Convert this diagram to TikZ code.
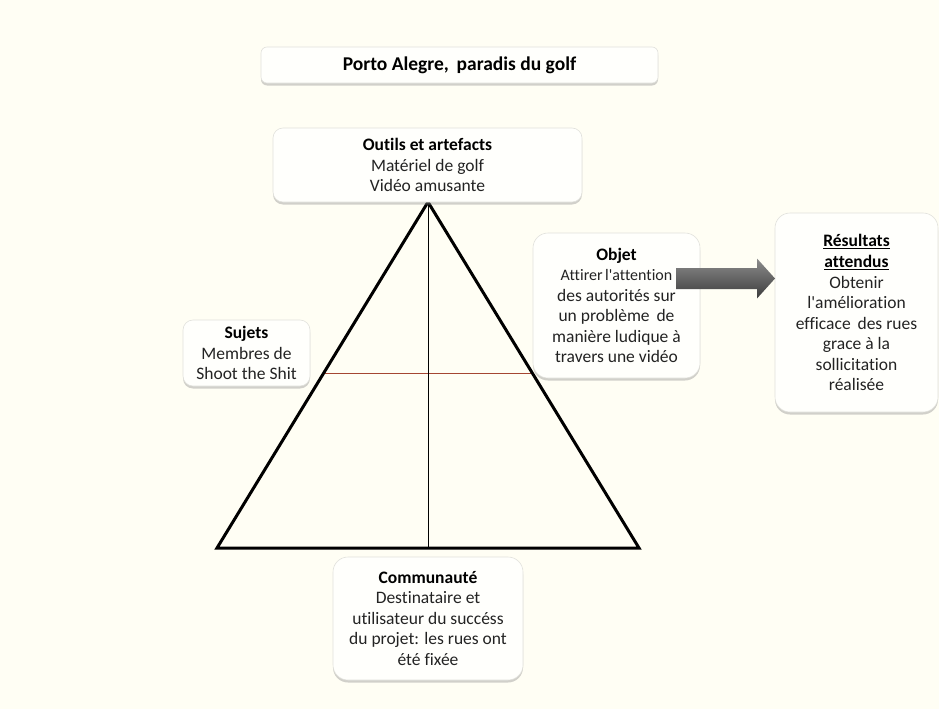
\documentclass[tikz,border=0pt]{standalone}
\usepackage{fontspec}
\setmainfont[Ligatures=CommonOff]{Carlito}
\usetikzlibrary{shadows,calc}
\definecolor{bgcream}{RGB}{255,254,244}
\definecolor{boxfill}{RGB}{255,255,252}
\definecolor{boxline}{RGB}{225,225,220}
\definecolor{bodytext}{RGB}{35,35,35}
\definecolor{redline}{RGB}{165,70,50}
\definecolor{arrtop}{RGB}{140,140,140}
\definecolor{arrmid}{RGB}{210,210,210}
\definecolor{arrbot}{RGB}{60,60,60}
\tikzset{
  infobox/.style={draw=boxline, line width=0.6pt, fill=boxfill, align=center,
    inner sep=0pt, text=bodytext,
    font=\fontsize{17.5}{20.5}\selectfont,
    drop shadow={shadow xshift=0pt, shadow yshift=-2.5pt, fill=black!45, opacity=0.4}},
  triedge/.style={line width=3pt, line join=miter},
  thinline/.style={line width=1pt},
}
\begin{document}
\begin{tikzpicture}[x=1pt,y=-1pt]
\useasboundingbox[fill=bgcream] (0,0) rectangle (939,709);

% triangle
\coordinate (apex) at (428,202);
\coordinate (bl) at (217,548);
\coordinate (br) at (639,548);
\coordinate (bm) at (428,548);
\coordinate (ml) at ($(apex)!0.497!(bl)$);
\coordinate (mr) at ($(apex)!0.497!(br)$);
\draw[thinline, redline] (ml) -- (mr);
\draw[thinline, black] (apex) -- (bm);
\draw[triedge] (apex) -- (bl) -- (br) -- cycle;

% boxes
\node[infobox, rounded corners=6pt, minimum width=397pt, minimum height=36pt,
      font=\fontsize{19.5}{22}\selectfont\bfseries, text=black]
  (title) at (459.5,65) {Porto Alegre,\, paradis du golf};

\node[infobox, rounded corners=10pt, minimum width=309pt, minimum height=74pt]
  (outils) at (427.5,165) {\textbf{\color{black}Outils et artefacts}\\Matériel de golf\\Vidéo amusante};

\node[infobox, rounded corners=10pt, minimum width=127pt, minimum height=66pt]
  (sujets) at (246.5,353) {\textbf{\color{black}Sujets}\\Membres de\\Shoot the Shit};

\node[infobox, rounded corners=15pt, minimum width=190pt, minimum height=123pt]
  (comm) at (428,618.5) {\textbf{\color{black}Communauté}\\Destinataire et\\utilisateur du succéss\\du projet: les rues ont\\été fixée};

\node[infobox, rounded corners=15pt, minimum width=167pt, minimum height=145pt]
  (objet) at (616.5,305.5) {\textbf{\color{black}Objet}\\{\fontsize{16}{20.5}\selectfont Attirer\hspace{2.5pt}l\textquotesingle attention}\hspace*{4pt}\\des autorités sur\\un problème\, de\\manière ludique à\\travers une vidéo};

\node[infobox, rounded corners=15pt, minimum width=163pt, minimum height=199pt]
  (res) at (856.5,312.5) {\textbf{\color{black}\underline{Résultats}}\\[1pt]\textbf{\color{black}\underline{attendus}}\\Obtenir\\l\textquotesingle amélioration\\efficace\, des rues\\grace à la\\sollicitation\\réalisée};

% block arrow from Objet to Résultats
\coordinate (arrstart) at (676,278.5);
\coordinate (arrtip) at (775,278.5);
\shade[top color=arrtop, middle color=arrmid, bottom color=arrbot]
  ($(arrstart)+(0,-10.5)$) -- ($(arrtip)+(-18,-10.5)$) -- ($(arrtip)+(-18,-20)$)
  -- (arrtip) -- ($(arrtip)+(-18,20)$) -- ($(arrtip)+(-18,10.5)$)
  -- ($(arrstart)+(0,10.5)$) -- cycle;
\end{tikzpicture}
\end{document}
